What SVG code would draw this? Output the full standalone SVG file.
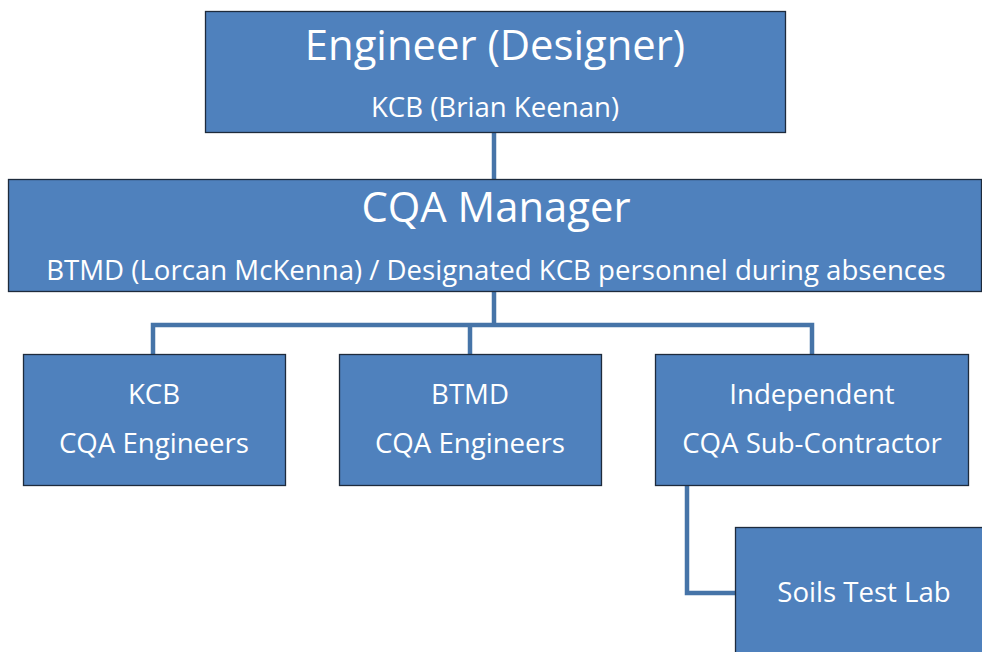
<svg xmlns="http://www.w3.org/2000/svg" width="982" height="652" viewBox="0 0 982 652">
  <style>
    .box { fill: #4F81BD; stroke: #1E2B3C; stroke-width: 1.3; }
    .link { fill: none; stroke: #4674A8; stroke-width: 4.5; stroke-linejoin: miter; }
    text { fill: #FFFFFF; font-family: "Open Sans", "Liberation Sans", sans-serif; text-anchor: middle; }
    .big { font-size: 41.8px; }
    .sm { font-size: 27.6px; }
  </style>
  <rect width="982" height="652" fill="#FFFFFF"/>

  <g id="connectors">
    <path class="link" d="M494 132 V179"/>
    <path class="link" d="M494 291 V325 M153 354 V325 H812 V354 M470 325 V354"/>
    <path class="link" d="M687 485 V593 H735"/>
  </g>

  <g id="engineer">
    <rect class="box" x="205.5" y="11.5" width="580" height="121"/>
    <text class="big" x="495" y="60">Engineer (Designer)</text>
    <text class="sm" x="495" y="117">KCB (Brian Keenan)</text>
  </g>

  <g id="cqa-manager">
    <rect class="box" x="8.5" y="179.5" width="973" height="112"/>
    <text class="big" x="496" y="222">CQA Manager</text>
    <text class="sm" x="496" y="280">BTMD (Lorcan McKenna) / Designated KCB personnel during absences</text>
  </g>

  <g id="kcb-engineers">
    <rect class="box" x="23.5" y="354.5" width="262" height="131"/>
    <text class="sm" x="154" y="404">KCB</text>
    <text class="sm" x="154" y="453">CQA Engineers</text>
  </g>

  <g id="btmd-engineers">
    <rect class="box" x="339.5" y="354.5" width="262" height="131"/>
    <text class="sm" x="470" y="404">BTMD</text>
    <text class="sm" x="470" y="453">CQA Engineers</text>
  </g>

  <g id="independent">
    <rect class="box" x="655.5" y="354.5" width="313" height="131"/>
    <text class="sm" x="812" y="404">Independent</text>
    <text class="sm" x="812" y="453">CQA Sub-Contractor</text>
  </g>

  <g id="soils-lab">
    <rect class="box" x="735.5" y="527.5" width="260" height="140"/>
    <text class="sm" x="864" y="602">Soils Test Lab</text>
  </g>
</svg>
